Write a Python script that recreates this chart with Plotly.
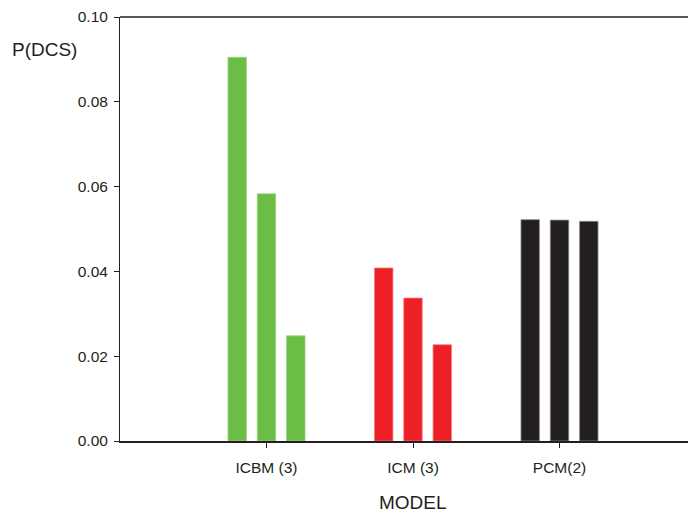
import plotly.graph_objects as go

categories = ["ICBM (3)", "ICM (3)", "PCM(2)"]
bar1 = [0.0905, 0.0408, 0.0522]
bar2 = [0.0583, 0.0337, 0.0521]
bar3 = [0.0248, 0.0227, 0.0518]
cat_colors = ["#6BBD45", "#EE2026", "#231F20"]
edge_colors = ["#9FD486", "#F47A7E", "#8A8A8A"]
y_ticks = [0.0, 0.02, 0.04, 0.06, 0.08, 0.10]

fig = go.Figure()
for vals in (bar1, bar2, bar3):
    fig.add_trace(go.Bar(
        x=list(range(len(categories))), y=vals,
        marker=dict(color=cat_colors, line=dict(color=edge_colors, width=0.8)),
        showlegend=False,
    ))

font = "Arial, Liberation Sans, sans-serif"
L, T, W, H = 112, 6, 696, 515
plot_w = W - L
plot_h = 427
fig.update_layout(
    width=W, height=H,
    margin=dict(l=L, r=0, t=T, b=H - T - plot_h),
    paper_bgcolor="white", plot_bgcolor="white",
    barmode="group", bargap=0.4, bargroupgap=0.37,
    font=dict(family=font, size=15.5, color="#231F20"),
    xaxis=dict(
        range=[-1, -1 + plot_w / 146.5], tickmode="array",
        tickvals=list(range(len(categories))), ticktext=categories,
        ticks="outside", ticklen=5, tickcolor="#231F20",
        showline=True, linecolor="#231F20", linewidth=1.5,
        showgrid=False, zeroline=False, ticklabelstandoff=7,
        tickfont=dict(size=15.5),
    ),
    yaxis=dict(
        range=[0, 0.10], tickmode="array", tickvals=y_ticks,
        ticktext=[f"{v:.2f}" for v in y_ticks],
        ticks="outside", ticklen=5, tickcolor="#231F20",
        showline=True, linecolor="#231F20", linewidth=1,
        showgrid=False, zeroline=False, ticklabelstandoff=3,
        ticklabeloverflow="allow",
        tickfont=dict(size=15.5),
    ),
    shapes=[
        dict(type="line", xref="paper", yref="paper", x0=0, x1=1, y0=1, y1=1,
             line=dict(color="#231F20", width=1.5), layer="above"),
    ],
    annotations=[
        dict(text="P(DCS)", xref="paper", yref="paper", x=(2 - L) / plot_w, y=1 - 33 / plot_h,
             xanchor="left", yanchor="middle", showarrow=False,
             font=dict(size=19)),
        dict(text="MODEL", xref="x", yref="paper", x=1, y=0, yshift=-61,
             xanchor="center", yanchor="middle", showarrow=False,
             font=dict(size=19)),
    ],
)

fig.write_html("out.html")
